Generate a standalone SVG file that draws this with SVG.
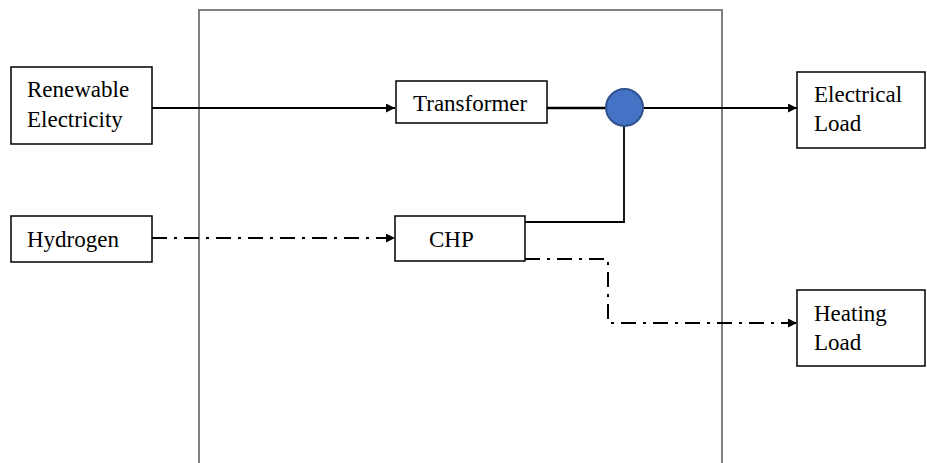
<svg xmlns="http://www.w3.org/2000/svg" width="927" height="463" viewBox="0 0 927 463">
<defs>
<style>
.box{fill:#fff;stroke:#000;stroke-width:1.5}
.lbl{font-family:'Liberation Serif','Times New Roman','DejaVu Serif',serif;font-size:23px;fill:#000}
.ln{fill:none;stroke:#000;stroke-width:1.8}
.dd{fill:none;stroke:#000;stroke-width:2;stroke-dasharray:15 7 3 7}
</style>
<marker id="arr" viewBox="0 0 10 10" refX="10" refY="5" markerWidth="9" markerHeight="9" markerUnits="userSpaceOnUse" orient="auto">
<path d="M0,0 L10,5 L0,10 Z" fill="#000"/>
</marker>
</defs>
<rect width="927" height="463" fill="#fff"/>
<path id="boundary" d="M199,470 V10 H722 V470" fill="none" stroke="#808080" stroke-width="2"/>
<g id="connectors">
<path class="ln" d="M152,108 H395" marker-end="url(#arr)"/>
<path d="M547,108 H606" fill="none" stroke="#000" stroke-width="2.6"/>
<path class="ln" d="M643,108 H797" marker-end="url(#arr)"/>
<path class="ln" d="M525,222 H624 V126"/>
<path class="dd" d="M152,238 H395" marker-end="url(#arr)"/>
<path class="dd" d="M525,259 H608 V323 H797" marker-end="url(#arr)"/>
</g>
<g id="renewable">
<rect class="box" x="11" y="67" width="141" height="77"/>
<text class="lbl" font-family="Liberation Serif, DejaVu Serif, serif" x="27" y="97">Renewable</text>
<text class="lbl" font-family="Liberation Serif, DejaVu Serif, serif" x="27" y="127">Electricity</text>
</g>
<g id="hydrogen">
<rect class="box" x="11" y="216" width="141" height="46"/>
<text class="lbl" font-family="Liberation Serif, DejaVu Serif, serif" x="27" y="247">Hydrogen</text>
</g>
<g id="transformer">
<rect class="box" x="396" y="81" width="151" height="42"/>
<text class="lbl" font-family="Liberation Serif, DejaVu Serif, serif" x="413" y="111">Transformer</text>
</g>
<g id="chp">
<rect class="box" x="395" y="216" width="130" height="45"/>
<text class="lbl" font-family="Liberation Serif, DejaVu Serif, serif" x="429" y="247">CHP</text>
</g>
<g id="bus">
<circle cx="624.5" cy="107.5" r="18.5" fill="#4472C4" stroke="#2F528F" stroke-width="2"/>
</g>
<g id="electrical-load">
<rect class="box" x="797" y="72" width="128" height="76"/>
<text class="lbl" font-family="Liberation Serif, DejaVu Serif, serif" x="814" y="102">Electrical</text>
<text class="lbl" font-family="Liberation Serif, DejaVu Serif, serif" x="814" y="131">Load</text>
</g>
<g id="heating-load">
<rect class="box" x="797" y="290" width="128" height="76"/>
<text class="lbl" font-family="Liberation Serif, DejaVu Serif, serif" x="814" y="321">Heating</text>
<text class="lbl" font-family="Liberation Serif, DejaVu Serif, serif" x="814" y="350">Load</text>
</g>
</svg>
